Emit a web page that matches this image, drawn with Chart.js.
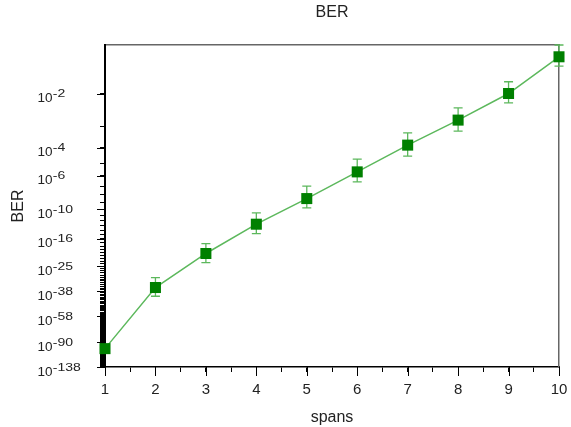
<!DOCTYPE html>
<html>
<head>
<meta charset="utf-8">
<script src="https://cdn.jsdelivr.net/npm/chart.js@4.4.1/dist/chart.umd.min.js"></script>
<style>
html,body{margin:0;padding:0;background:#fff;}
#wrap{width:571px;height:427px;}
</style>
</head>
<body>
<div id="wrap"><canvas id="c" width="571" height="427"></canvas></div>
<script>
// ---- data ----
const spans = [1, 2, 3, 4, 5, 6, 7, 8, 9, 10];
const berValues = [2e-101, 2e-36, 5e-21, 2.3e-13, 3.5e-9, 2.2e-6, 1.37e-4, 1.71e-3, 1.01e-2, 4.57e-2];
const berUpper  = [null, 5.9e-31, 5.5e-18, 2.7e-11, 1.0e-7, 1.96e-5, 5.38e-4, 4.26e-3, 1.80e-2, 6.38e-2];
const berLower  = [null, 4.6e-42, 2.8e-24, 2.1e-15, 1.7e-10, 2.74e-7, 3.09e-5, 6.37e-4, 5.89e-3, 3.36e-2];
const yLabelExponents = [2, 4, 6, 10, 16, 25, 38, 58, 90, 138];
const yAxisTopBer = 0.0638;
const yAxisBottomBer = 1e-138;
const xLabels = [1, 2, 3, 4, 5, 6, 7, 8, 9, 10];

// ---- BER axis transform (log of Q factor, as in optical-system BER plots) ----
function lnTail(x) {
  const z = x / Math.SQRT2;
  const t = 1 / (1 + 0.5 * z);
  const p = -z * z - 1.26551223 + t * (1.00002368 + t * (0.37409196 + t * (0.09678418 +
    t * (-0.18628806 + t * (0.27886807 + t * (-1.13520398 + t * (1.48851587 +
    t * (-0.82215223 + t * 0.17087277))))))));
  return Math.log(0.5) + Math.log(t) + p;
}
function qOfBer(b) {
  const target = Math.log(b);
  let lo = 0, hi = 60;
  for (let i = 0; i < 100; i++) {
    const m = (lo + hi) / 2;
    if (lnTail(m) > target) lo = m; else hi = m;
  }
  return (lo + hi) / 2;
}
function tr(b) { return Math.log10(qOfBer(b)); }

const FONT = "'Liberation Sans', Arial, Helvetica, sans-serif";
const TXT = '#222';
const LINE_GREEN = '#5cb85c';
const MARK_GREEN = '#008000';

const decadeTicks = [];
for (let k = 2; k <= 138; k++) decadeTicks.push(k);

const errorBarPlugin = {
  id: 'errorBars',
  beforeDatasetsDraw(chart) {
    const xs = chart.scales.x, ys = chart.scales.y, ctx = chart.ctx;
    ctx.save();
    ctx.strokeStyle = LINE_GREEN;
    ctx.lineWidth = 1.3;
    for (let i = 0; i < spans.length; i++) {
      if (berUpper[i] == null || berLower[i] == null) continue;
      const x = xs.getPixelForValue(spans[i]);
      const y1 = ys.getPixelForValue(tr(berUpper[i]));
      const y2 = ys.getPixelForValue(tr(berLower[i]));
      ctx.beginPath();
      ctx.moveTo(x, y1); ctx.lineTo(x, y2);
      ctx.moveTo(x - 4.5, y1); ctx.lineTo(x + 4.5, y1);
      ctx.moveTo(x - 4.5, y2); ctx.lineTo(x + 4.5, y2);
      ctx.stroke();
    }
    ctx.restore();
  }
};

const axisDecorPlugin = {
  id: 'axisDecor',
  afterDraw(chart) {
    const xs = chart.scales.x, ys = chart.scales.y, ctx = chart.ctx;
    const area = chart.chartArea;
    ctx.save();
    ctx.strokeStyle = '#000';
    ctx.lineWidth = 1;
    ctx.beginPath();
    // longer major ticks
    xLabels.forEach(v => {
      const x = Math.round(xs.getPixelForValue(v)) + 0.5;
      ctx.moveTo(x, area.bottom); ctx.lineTo(x, area.bottom + 9);
    });
    yLabelExponents.forEach(k => {
      const y = Math.round(ys.getPixelForValue(tr(Math.pow(10, -k)))) + 0.5;
      ctx.moveTo(area.left - 8, y); ctx.lineTo(area.left, y);
    });
    ctx.stroke();
    // y tick labels with superscript exponents
    ctx.fillStyle = TXT;
    ctx.textAlign = 'left';
    ctx.textBaseline = 'alphabetic';
    yLabelExponents.forEach(k => {
      const y = ys.getPixelForValue(tr(Math.pow(10, -k)));
      const x0 = 37.5;
      ctx.font = '13.5px ' + FONT;
      ctx.fillText('10', x0, y + 8.5);
      const w = ctx.measureText('10').width;
      ctx.save();
      ctx.translate(x0 + w + 0.3, y + 3.6);
      ctx.scale(1.4, 1);
      ctx.font = '10px ' + FONT;
      ctx.fillText('-' + k, 0, 0);
      ctx.restore();
    });
    ctx.restore();
  }
};

new Chart(document.getElementById('c').getContext('2d'), {
  type: 'line',
  data: {
    datasets: [{
      data: spans.map((s, i) => ({ x: s, y: tr(berValues[i]) })),
      borderColor: LINE_GREEN,
      borderWidth: 1.5,
      tension: 0,
      pointStyle: 'rect',
      pointRadius: 7.8,
      pointHoverRadius: 7.8,
      pointBackgroundColor: MARK_GREEN,
      pointBorderWidth: 0,
      clip: false,
      xAxisID: 'x',
      yAxisID: 'y'
    }]
  },
  options: {
    responsive: false,
    animation: false,
    events: [],
    layout: { padding: 0 },
    plugins: { legend: { display: false }, title: { display: false }, tooltip: { enabled: false } },
    scales: {
      x: {
        type: 'linear', position: 'bottom', min: 1, max: 10,
        afterFit(s) { s.height = 60; s.paddingLeft = 0; s.paddingRight = 0; },
        ticks: {
          stepSize: 0.5, autoSkip: false, maxRotation: 0, padding: 9,
          font: { family: FONT, size: 15 }, color: TXT,
          callback: v => (Number.isInteger(v) && xLabels.includes(v)) ? String(v) : ''
        },
        grid: { drawOnChartArea: false, drawTicks: true, tickLength: 5, tickColor: '#000' },
        border: { color: '#000', width: 1.5 },
        title: { display: true, text: 'spans', color: TXT, font: { family: FONT, size: 16 }, padding: { top: 0, bottom: 0 } }
      },
      x2: {
        type: 'linear', position: 'top', min: 1, max: 10,
        afterFit(s) { s.height = 45; s.paddingLeft = 0; s.paddingRight = 0; },
        ticks: { display: false },
        grid: { display: false, drawTicks: false },
        border: { color: '#666', width: 1.5 },
        title: { display: true, text: 'BER', color: TXT, font: { family: FONT, size: 16 }, padding: { top: 3, bottom: 0 } }
      },
      y: {
        type: 'linear', position: 'left', reverse: true,
        min: tr(yAxisTopBer), max: tr(yAxisBottomBer),
        afterFit(s) { s.width = 105; s.paddingTop = 0; s.paddingBottom = 0; },
        afterBuildTicks(s) { s.ticks = decadeTicks.map(k => ({ value: tr(Math.pow(10, -k)) })); },
        ticks: { autoSkip: false, callback: () => '', padding: 0 },
        grid: { drawOnChartArea: false, drawTicks: true, tickLength: 5, tickColor: '#000' },
        border: { color: '#000', width: 2 },
        title: { display: true, text: 'BER', color: TXT, font: { family: FONT, size: 16 }, padding: { top: 9, bottom: 0 } },
        z: 1
      },
      y2: {
        type: 'linear', position: 'right', min: 0, max: 1,
        afterFit(s) { s.width = 12; s.paddingTop = 0; s.paddingBottom = 0; },
        ticks: { display: false },
        grid: { display: false, drawTicks: false },
        border: { color: '#666', width: 1.5 }
      }
    }
  },
  plugins: [errorBarPlugin, axisDecorPlugin]
});
</script>
</body>
</html>
